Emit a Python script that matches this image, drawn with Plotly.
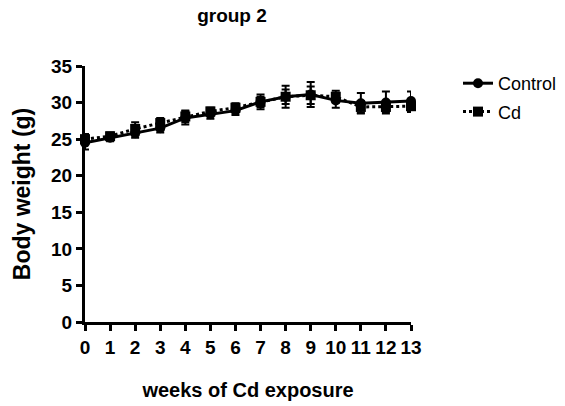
import plotly.graph_objects as go

weeks = list(range(14))
control = [24.5, 25.2, 25.8, 26.5, 27.9, 28.4, 28.9, 30.1, 30.8, 31.1, 30.3, 29.9, 30.0, 30.2]
control_sd = [0.9, 0.5, 0.6, 0.6, 0.9, 0.6, 0.6, 1.0, 1.5, 1.7, 1.0, 1.4, 1.5, 1.3]
cd = [25.0, 25.4, 26.4, 27.2, 28.1, 28.8, 29.3, 30.1, 30.8, 31.0, 30.8, 29.4, 29.4, 29.5]
cd_sd = [0.7, 0.5, 0.9, 0.7, 0.8, 0.5, 0.6, 0.7, 1.0, 1.2, 0.8, 0.8, 0.7, 0.8]

FONT = "Liberation Sans, Arial, sans-serif"

W, H = 565, 406
L, T, R, B = 85, 66, 154, 84
PW, PH = W - L - R, H - T - B

fig = go.Figure()
fig.add_trace(go.Scatter(
    x=weeks, y=control, name="Control", mode="lines+markers", legendgroup="a",
    line=dict(color="black", width=3),
    marker=dict(symbol="circle", size=10, color="black"),
    error_y=dict(type="data", array=control_sd, color="black", thickness=2, width=4),
    cliponaxis=False,
))
fig.add_trace(go.Scatter(
    x=weeks, y=cd, name="Cd", mode="lines+markers", legendgroup="b",
    line=dict(color="black", width=3, dash="dot"),
    marker=dict(symbol="square", size=10, color="black"),
    error_y=dict(type="data", array=cd_sd, color="black", thickness=2, width=4),
    cliponaxis=False,
))

fig.update_layout(
    width=W, height=H,
    margin=dict(l=L, r=R, t=T, b=B, autoexpand=False),
    paper_bgcolor="white", plot_bgcolor="white",
    title=dict(text="group 2", x=232 / W, xanchor="center", y=1 - 15 / H, yanchor="middle",
               font=dict(family=FONT, size=19, color="black", weight="bold")),
    showlegend=True,
    legend=dict(x=(458 - L) / PW, y=1 - (65 - T) / PH, xanchor="left", yanchor="top",
                font=dict(family=FONT, size=18, color="black"),
                bgcolor="rgba(0,0,0,0)", tracegroupgap=2),
    xaxis=dict(range=[0, 13], tickvals=weeks, ticktext=[str(w) for w in weeks],
               automargin=False, tickangle=0,
               showgrid=False, zeroline=False, showline=True, linecolor="black", linewidth=3,
               ticks="outside", ticklen=6, tickwidth=3, tickcolor="black",
               tickfont=dict(family=FONT, size=19, color="black", weight="bold"),
               title=dict(text="weeks of Cd exposure", standoff=27,
                          font=dict(family=FONT, size=20, color="black", weight="bold"))),
    yaxis=dict(range=[0, 35], tickvals=[0, 5, 10, 15, 20, 25, 30, 35],
               automargin=False,
               showgrid=False, zeroline=False, showline=True, linecolor="black", linewidth=3,
               ticks="outside", ticklen=6, tickwidth=3, tickcolor="black",
               tickfont=dict(family=FONT, size=19, color="black", weight="bold"),
               title=dict(text="Body weight (g)", standoff=15,
                          font=dict(family=FONT, size=23, color="black", weight="bold"))),
)

fig.write_html("out.html", config={"displayModeBar": False},
               post_script="document.body.style.margin='0px';")
